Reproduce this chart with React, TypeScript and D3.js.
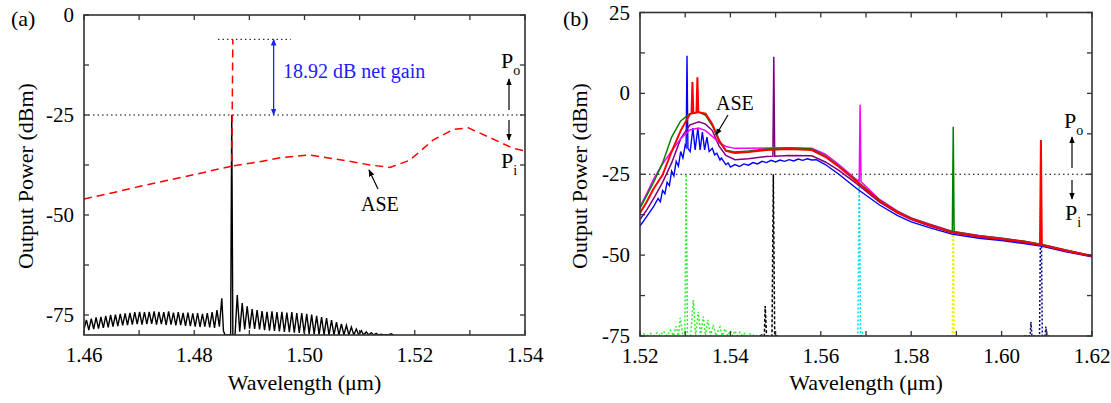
import React from 'react';
import * as d3 from 'd3';

type Pt = [number, number];

// ---------- panel (a) ----------
const aXTicks = [1.46, 1.48, 1.5, 1.52, 1.54];
const aXMinor = [1.47, 1.49, 1.51, 1.53];
const aYTicks = [-75, -50, -25, 0];
const aYMinor = [-62.5, -37.5, -12.5];

// ASE (red dashed), split where it climbs onto the signal line
const aAseWl = [1.46, 1.465, 1.47, 1.475, 1.48, 1.4845, 1.4868, 1.487, 1.4872, 1.4919, 1.496, 1.501, 1.507, 1.5119, 1.5155, 1.5191, 1.5233, 1.527, 1.5297, 1.5342, 1.5378, 1.54];
const aAsePow = [-46, -44.5, -42.9, -41.4, -39.9, -38.5, -37.8, -6.1, -37.7, -36.7, -35.6, -35, -36.3, -37.5, -38.1, -36.3, -31.3, -28.6, -28.2, -31, -33.3, -34];

// measured signal (black): fringes before and after the line
const aPreStart = 1.46;
const aPreStep = 0.000877;
const aPreTroughs = [-78.6, -78.8, -78.5, -78.4, -78.2, -78.1, -77.9, -77.8, -77.6, -77.5, -77.4, -77.3, -77.4, -77.3, -77.2, -77.4, -77.3, -77.5, -77.4, -77.6, -77.5, -77.7, -77.8, -77.9, -78.0, -77.9, -78.1, -78.2, -77.9];
const aPrePeaks = [-76.2, -75.9, -75.6, -75.5, -75.2, -75.0, -74.9, -74.7, -74.6, -74.5, -74.3, -74.2, -74.3, -74.2, -74.1, -74.2, -74.3, -74.1, -74.4, -74.3, -74.5, -74.4, -74.6, -74.5, -74.7, -74.5, -74.3, -73.8, -70.8];
const aLineWl = [1.4853, 1.4856, 1.4866, 1.4868, 1.487, 1.4874];
const aLinePow = [-79, -80, -80, -25, -80, -80];
const aPostStart = 1.4878;
const aPostStep = 0.0009;
const aPostPeaks = [-70, -72, -72.8, -73.5, -73.8, -74.0, -74.2, -74.1, -74.3, -74.2, -74.4, -74.3, -74.5, -74.5, -74.7, -74.9, -75.2, -75.5, -75.8, -76.3, -76.8, -77.2, -77.6, -78.0, -78.5, -78.9, -79.2, -79.4, -79.6, -79.8, -79.9, -79.7];
const aPostTroughs = [-79.2, -78.6, -78.4, -78.5, -78.6, -78.8, -78.9, -79.0, -79.1, -79.2, -79.3, -79.4, -79.5, -79.6, -79.7, -79.8, -79.9, -80, -80, -80, -80, -80, -80, -80, -80, -80, -80, -80, -80, -80, -80, -80];

// ---------- panel (b) ----------
const bXTicks = [1.52, 1.54, 1.56, 1.58, 1.6, 1.62];
const bXMinor = [1.53, 1.55, 1.57, 1.59, 1.61];
const bYTicks = [-75, -50, -25, 0, 25];
const bYMinor = [-62.5, -37.5, -12.5, 12.5];

const bWl = [1.52, 1.5215, 1.523, 1.525, 1.527, 1.529, 1.531, 1.533, 1.5345, 1.536, 1.5375, 1.539, 1.541, 1.544, 1.548, 1.553, 1.558, 1.561, 1.564, 1.568, 1.573, 1.577, 1.58, 1.584, 1.589, 1.595, 1.6, 1.605, 1.609, 1.614, 1.62];
const bRed = [-37, -33.5, -29.5, -25.2, -18, -11.5, -6.5, -5.8, -6.3, -9.5, -14.5, -17.8, -18.4, -18.1, -17.5, -17.2, -17.5, -19.6, -22.7, -27.3, -33.2, -36.8, -38.8, -40.7, -42.9, -44.2, -45.0, -45.9, -46.9, -48.5, -50.3];
const bGreen = [-35.5, -31.5, -27.5, -21.5, -13.5, -8.5, -6.3, -5.8, -6.8, -10, -14.8, -17.6, -18.1, -17.8, -17.2, -16.9, -17.2, -19.3, -22.5, -27.1, -33, -36.6, -38.6, -40.5, -42.7, -44.0, -44.8, -45.7, -46.7, -48.3, -50.2];
const bPurple = [-39, -36, -32.5, -27.5, -21.5, -14, -9.8, -8.8, -9.5, -11.5, -16.3, -19.2, -20.5, -20.2, -19.5, -19.2, -19.3, -21.2, -23.8, -28, -33.6, -37, -39, -40.9, -43.1, -44.4, -45.2, -46.1, -47, -48.7, -50.4];
const bMagenta = [-35, -31, -26.5, -21.8, -17.8, -14, -11.3, -10.7, -11.5, -13.3, -15.2, -16.4, -17, -17, -16.9, -16.8, -17, -18.8, -22, -26.8, -32.8, -36.4, -38.5, -40.4, -42.6, -43.9, -44.8, -45.7, -46.8, -48.5, -50.2];
const bBlueWl = [1.52, 1.521, 1.522, 1.523, 1.524, 1.5245, 1.525, 1.5255, 1.526, 1.5265, 1.527, 1.5275, 1.528, 1.5285, 1.529, 1.5295, 1.53, 1.5302, 1.5304, 1.5306, 1.5311, 1.5317, 1.5322, 1.5328, 1.5333, 1.5338, 1.5343, 1.5348, 1.5353, 1.536, 1.5365, 1.537, 1.5377, 1.538, 1.539, 1.5395, 1.54, 1.541, 1.542, 1.543, 1.544, 1.545, 1.546, 1.547, 1.548, 1.549, 1.55, 1.551, 1.552, 1.553, 1.554, 1.555, 1.556, 1.557, 1.558, 1.559, 1.561, 1.564, 1.568, 1.573, 1.577, 1.58, 1.584, 1.589, 1.595, 1.6, 1.605, 1.609, 1.614, 1.62];
const bBlue = [-41, -39, -37, -35, -32.5, -33.5, -30, -31, -27.5, -28.5, -24, -25.5, -21, -22.5, -18, -20, -16, -16.5, 11.6, -17, -18, -10.7, -17.5, -10.7, -17.5, -12, -17.5, -13.5, -18, -17, -19, -18.5, -20.6, -20, -22, -21.5, -22.8, -22, -22.6, -21.8, -22.2, -21.4, -21.8, -21, -21.4, -20.7, -21.2, -20.6, -21, -20.5, -20.9, -20.3, -20.7, -20.2, -20.6, -20.5, -22, -25, -29.5, -34.5, -37.8, -39.7, -41.5, -43.5, -44.8, -45.5, -46.4, -47.3, -48.9, -50.5];

// amplified signal lines riding on the ASE curves
const bRedSpikes: Pt[] = [[1.5314, -6.2], [1.5316, 3.5], [1.5318, -6.1], [1.5325, -5.9], [1.5327, 5], [1.5329, -5.8], [1.6085, -46.8], [1.6087, -14.4], [1.6089, -46.9]];
const bGreenSpikes: Pt[] = [[1.5891, -42.7], [1.5893, -10.3], [1.5895, -42.8]];
const bPurpleSpikes: Pt[] = [[1.5494, -19.4], [1.5496, 11.3], [1.5498, -19.4]];
const bMagentaSpikes: Pt[] = [[1.5685, -27], [1.5687, -3.5], [1.5689, -27.3]];

// input signals (dotted)
const bInGreenWl = [1.52, 1.5208, 1.5215, 1.5223, 1.523, 1.5238, 1.5245, 1.5252, 1.526, 1.5267, 1.5274, 1.528, 1.5285, 1.5289, 1.5295, 1.5299, 1.5302, 1.5305, 1.5312, 1.5318, 1.5323, 1.5329, 1.5334, 1.534, 1.5345, 1.535, 1.5356, 1.5362, 1.5368, 1.5377, 1.5382, 1.5388, 1.5394, 1.54, 1.5405, 1.541, 1.5415, 1.5421, 1.5426, 1.5432, 1.5437, 1.5443, 1.5448, 1.5454, 1.546];
const bInGreen = [-75, -74.3, -75, -74.2, -75, -74, -75, -73.5, -75, -73.2, -75, -72, -75, -69.4, -75, -75, -25, -75, -75, -63.9, -75, -67.5, -75, -69, -75, -70, -75, -71.6, -75, -72.2, -75, -72.8, -75, -73.4, -75, -73.4, -75, -73.8, -75, -74.2, -75, -74.4, -75, -74.6, -75];
const bInBlackWl = [1.5465, 1.5472, 1.5475, 1.5477, 1.548, 1.5492, 1.5495, 1.5498, 1.5505];
const bInBlack = [-75, -74.5, -75, -65.7, -75, -75, -25, -75, -75];
const bInCyanWl = [1.567, 1.5682, 1.5685, 1.5688, 1.5692, 1.5695];
const bInCyan = [-75, -75, -25, -75, -74, -75];
const bInYellowWl = [1.588, 1.5891, 1.5893, 1.5895, 1.5898];
const bInYellow = [-75, -75, -25, -75, -75];
const bInNavyWl = [1.605, 1.6063, 1.6065, 1.6067, 1.6084, 1.6087, 1.609, 1.6096, 1.6098, 1.61, 1.6105];
const bInNavy = [-75, -75, -70.6, -75, -75, -25, -75, -75, -72.1, -75, -75];

const zip = (w: number[], p: number[]): Pt[] => w.map((v, i) => [v, p[i]] as Pt);
const withSpikes = (base: Pt[], extra: Pt[]) => [...base, ...extra].sort((a, b) => a[0] - b[0]);

const FONT = 'Liberation Serif, Times New Roman, serif';
const AX = '#333';

function Frame({ x, y, xTicks, xMinor, yTicks, yMinor }: any) {
  const [x0, x1] = x.range();
  const [yb, yt] = y.range();
  const fx = d3.format('.2f');
  const tk = 5;
  return (
    <g>
      {[...xTicks, ...xMinor].map((v: number) => (
        <g key={'x' + v} stroke={AX} strokeWidth={1.3}>
          <line x1={x(v)} x2={x(v)} y1={yb} y2={yb - tk} />
          <line x1={x(v)} x2={x(v)} y1={yt} y2={yt + tk} />
        </g>
      ))}
      {[...yTicks, ...yMinor].map((v: number) => (
        <g key={'y' + v} stroke={AX} strokeWidth={1.3}>
          <line x1={x0} x2={x0 + tk} y1={y(v)} y2={y(v)} />
          <line x1={x1} x2={x1 - tk} y1={y(v)} y2={y(v)} />
        </g>
      ))}
      <rect x={x0} y={yt} width={x1 - x0} height={yb - yt} fill="none" stroke={AX} strokeWidth={1.6} />
      {xTicks.map((v: number) => (
        <text key={'xl' + v} x={x(v)} y={yb + 27} textAnchor="middle" fontSize={21}>{fx(v)}</text>
      ))}
      {yTicks.map((v: number) => (
        <text key={'yl' + v} x={x0 - 10} y={y(v) + 7} textAnchor="end" fontSize={21}>{v}</text>
      ))}
      <text x={(x0 + x1) / 2} y={390} textAnchor="middle" fontSize={22}>Wavelength (μm)</text>
    </g>
  );
}

export default function App() {
  const xA = d3.scaleLinear().domain([1.46, 1.54]).range([84, 525]);
  const yA = d3.scaleLinear().domain([-80, 0]).range([335, 15]);
  const xB = d3.scaleLinear().domain([1.52, 1.62]).range([640, 1092]);
  const yB = d3.scaleLinear().domain([-75, 25]).range([336, 12.5]);
  const lineA = d3.line<Pt>().x(d => xA(d[0])).y(d => yA(d[1]));
  const lineB = d3.line<Pt>().x(d => xB(d[0])).y(d => yB(d[1]));

  const black: Pt[] = [];
  aPrePeaks.forEach((p, i) => {
    black.push([aPreStart + i * aPreStep, aPreTroughs[i]]);
    black.push([aPreStart + (i + 0.5) * aPreStep, p]);
  });
  aLineWl.forEach((w, i) => black.push([w, aLinePow[i]]));
  aPostPeaks.forEach((p, i) => {
    black.push([aPostStart + i * aPostStep, p]);
    black.push([aPostStart + (i + 0.5) * aPostStep, aPostTroughs[i]]);
  });

  const ase = zip(aAseWl, aAsePow);
  const top = d3.maxIndex(ase, d => d[1]);
  const aseUp = ase.slice(0, top + 1);
  const aseRest = ase.slice(top + 1);

  const curves = [
    { c: '#0000ff', w: 1.4, d: zip(bBlueWl, bBlue) },
    { c: '#800080', w: 1.5, d: withSpikes(zip(bWl, bPurple), bPurpleSpikes) },
    { c: '#ff00ff', w: 1.5, d: withSpikes(zip(bWl, bMagenta), bMagentaSpikes) },
    { c: '#008000', w: 1.5, d: withSpikes(zip(bWl, bGreen), bGreenSpikes) },
    { c: '#ff0000', w: 2, d: withSpikes(zip(bWl, bRed), bRedSpikes) },
  ];
  const inputs = [
    { c: '#33ee33', dash: '2,2', d: zip(bInGreenWl, bInGreen) },
    { c: '#000000', dash: '3,2', d: zip(bInBlackWl, bInBlack) },
    { c: '#00e0f0', dash: '2,2', d: zip(bInCyanWl, bInCyan) },
    { c: '#eeee00', dash: '2,2', d: zip(bInYellowWl, bInYellow) },
    { c: '#000080', dash: '2,2', d: zip(bInNavyWl, bInNavy) },
  ];

  const gainTop = -25 + 18.92;

  return (
    <svg width={1111} height={403} style={{ position: 'absolute', left: 0, top: 0, background: '#fff', fontFamily: FONT }}>
      <defs>
        <clipPath id="clipA"><rect x={84} y={15} width={441} height={320} /></clipPath>
        <clipPath id="clipB"><rect x={640} y={12.5} width={452} height={323.5} /></clipPath>
        <marker id="ahK" viewBox="0 0 10 10" refX="9" refY="5" markerWidth="7" markerHeight="7" orient="auto-start-reverse" markerUnits="userSpaceOnUse">
          <path d="M0,1 L10,5 L0,9 z" fill="#000" />
        </marker>
        <marker id="ahB" viewBox="0 0 10 10" refX="9" refY="5" markerWidth="7" markerHeight="7" orient="auto-start-reverse" markerUnits="userSpaceOnUse">
          <path d="M0,1 L10,5 L0,9 z" fill="#2020ff" />
        </marker>
      </defs>

      {/* panel (a) */}
      <text x={11} y={26} fontSize={22}>(a)</text>
      <text transform="translate(33,176) rotate(-90)" textAnchor="middle" fontSize={22}>Output Power (dBm)</text>
      <g clipPath="url(#clipA)">
        <line x1={xA(1.46)} x2={xA(1.54)} y1={yA(-25)} y2={yA(-25)} stroke="#000" strokeWidth={1} strokeDasharray="1.5,3" />
        <line x1={xA(1.4843)} x2={xA(1.4975)} y1={yA(gainTop)} y2={yA(gainTop)} stroke="#000" strokeWidth={1} strokeDasharray="1.5,3" />
        <path d={lineA(black) || ''} fill="none" stroke="#000" strokeWidth={1.4} />
        <path d={lineA(aseUp) || ''} fill="none" stroke="#ff0000" strokeWidth={1.5} strokeDasharray="8,5" />
        <path d={lineA(aseRest) || ''} fill="none" stroke="#ff0000" strokeWidth={1.5} strokeDasharray="8,5" />
      </g>
      <line x1={xA(1.4944)} x2={xA(1.4944)} y1={yA(gainTop)} y2={yA(-25)} stroke="#2020ff" strokeWidth={1.3} markerStart="url(#ahB)" markerEnd="url(#ahB)" />
      <text x={283} y={78} fontSize={20} fill="#2020ff">18.92 dB net gain</text>
      <text x={501} y={68} fontSize={22}>P<tspan fontSize={14} dy={7}>o</tspan></text>
      <line x1={509} x2={509} y1={110} y2={79} stroke="#000" strokeWidth={1.2} markerEnd="url(#ahK)" />
      <line x1={509} x2={509} y1={120} y2={140} stroke="#000" strokeWidth={1.2} markerEnd="url(#ahK)" />
      <text x={501} y={168} fontSize={22}>P<tspan fontSize={14} dy={7}>i</tspan></text>
      <text x={361} y={211} fontSize={20}>ASE</text>
      <line x1={378} x2={369} y1={189} y2={170} stroke="#000" strokeWidth={1.2} markerEnd="url(#ahK)" />
      <Frame x={xA} y={yA} xTicks={aXTicks} xMinor={aXMinor} yTicks={aYTicks} yMinor={aYMinor} />

      {/* panel (b) */}
      <text x={563} y={26} fontSize={22}>(b)</text>
      <text transform="translate(587,176) rotate(-90)" textAnchor="middle" fontSize={22}>Output Power (dBm)</text>
      <g clipPath="url(#clipB)">
        <line x1={xB(1.52)} x2={xB(1.62)} y1={yB(-25)} y2={yB(-25)} stroke="#000" strokeWidth={1} strokeDasharray="1.5,3" />
        {inputs.map((s, i) => (
          <path key={'in' + i} d={lineB(s.d) || ''} fill="none" stroke={s.c} strokeWidth={1.5} strokeDasharray={s.dash} />
        ))}
        {curves.map((s, i) => (
          <path key={'c' + i} d={lineB(s.d) || ''} fill="none" stroke={s.c} strokeWidth={s.w} />
        ))}
      </g>
      <text x={716} y={110} fontSize={20}>ASE</text>
      <line x1={728} x2={716} y1={115} y2={135} stroke="#000" strokeWidth={1.2} markerEnd="url(#ahK)" />
      <text x={1064} y={128} fontSize={22}>P<tspan fontSize={14} dy={7}>o</tspan></text>
      <line x1={1072} x2={1072} y1={168} y2={137} stroke="#000" strokeWidth={1.2} markerEnd="url(#ahK)" />
      <line x1={1072} x2={1072} y1={180} y2={199} stroke="#000" strokeWidth={1.2} markerEnd="url(#ahK)" />
      <text x={1065} y={220} fontSize={22}>P<tspan fontSize={14} dy={7}>i</tspan></text>
      <Frame x={xB} y={yB} xTicks={bXTicks} xMinor={bXMinor} yTicks={bYTicks} yMinor={bYMinor} />
    </svg>
  );
}
